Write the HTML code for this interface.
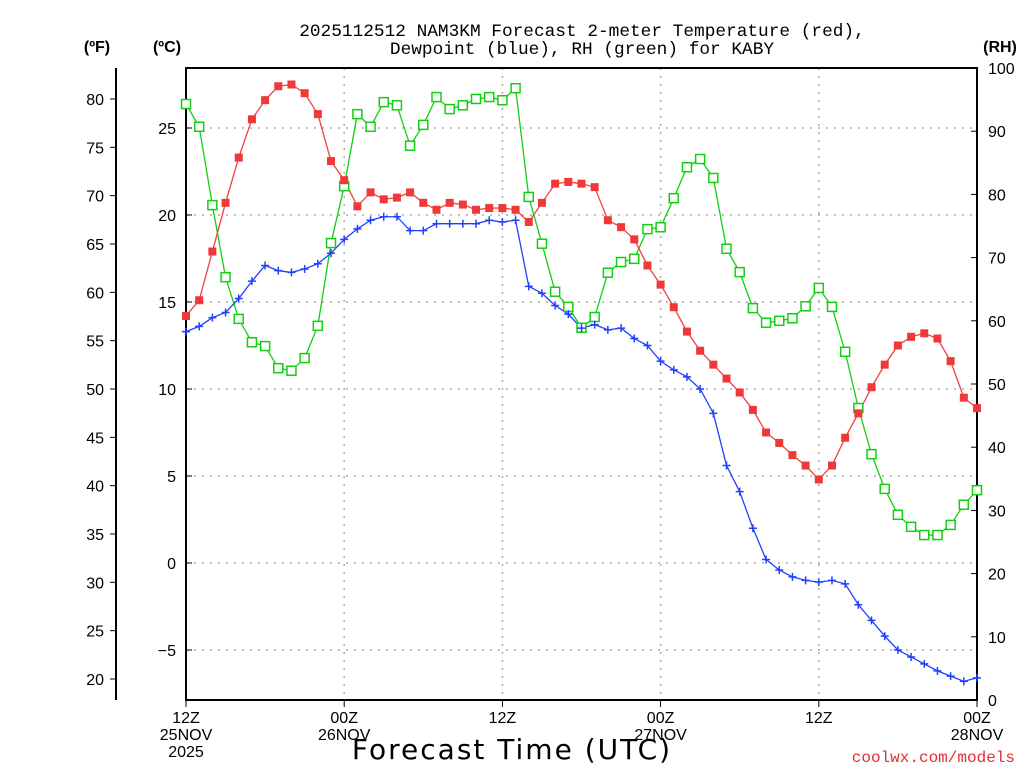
<!DOCTYPE html>
<html><head><meta charset="utf-8"><style>
html,body{margin:0;padding:0;background:#fff;}
svg{display:block;font-family:"Liberation Sans",sans-serif;}
</style></head><body>
<svg id="chart" width="1024" height="768" viewBox="0 0 1024 768" xmlns="http://www.w3.org/2000/svg">
<rect width="1024" height="768" fill="#fff"/>
<g font-family="Liberation Mono, monospace" font-size="17.8" text-anchor="middle" fill="#000">
<text x="582" y="36">2025112512 NAM3KM Forecast 2-meter Temperature (red),</text>
<text x="582" y="54">Dewpoint (blue), RH (green) for KABY</text>
</g>
<text x="97" y="52" font-size="16" font-weight="bold" text-anchor="middle">(ºF)</text>
<text x="167" y="52" font-size="16" font-weight="bold" text-anchor="middle">(ºC)</text>
<text x="1000" y="52" font-size="16" font-weight="bold" text-anchor="middle">(RH)</text>
<g id="grid"></g><g id="axes"></g><g id="series"></g>
<text x="512" y="759" font-size="28" letter-spacing="2" text-anchor="middle" font-family="DejaVu Sans, sans-serif">Forecast Time (UTC)</text>
<text x="1015" y="762" font-size="16" fill="#e03030" text-anchor="end" font-family="Liberation Mono, monospace">coolwx.com/models</text>
</svg>
<script>
const tempC=[14.2,15.1,17.9,20.7,23.3,25.5,26.6,27.4,27.5,27.0,25.8,23.1,22.0,20.5,21.3,20.9,21.0,21.3,20.7,20.3,20.7,20.6,20.3,20.4,20.4,20.3,19.6,20.7,21.8,21.9,21.8,21.6,19.7,19.3,18.6,17.1,16.0,14.7,13.3,12.2,11.4,10.6,9.8,8.8,7.5,6.9,6.2,5.6,4.8,5.6,7.2,8.6,10.1,11.4,12.5,13.0,13.2,12.9,11.6,9.5,8.9];
const dewC=[13.3,13.6,14.1,14.4,15.2,16.2,17.1,16.8,16.7,16.9,17.2,17.8,18.6,19.2,19.7,19.9,19.9,19.1,19.1,19.5,19.5,19.5,19.5,19.7,19.6,19.7,15.9,15.5,14.8,14.3,13.5,13.7,13.4,13.5,12.9,12.5,11.6,11.1,10.7,10.0,8.6,5.6,4.1,2.0,0.2,-0.4,-0.8,-1.0,-1.1,-1.0,-1.2,-2.4,-3.3,-4.2,-5.0,-5.4,-5.8,-6.2,-6.5,-6.8,-6.6];
const rh=[94.3,90.7,78.3,66.9,60.3,56.6,56.0,52.5,52.1,54.1,59.2,72.3,81.3,92.7,90.7,94.6,94.1,87.7,91.0,95.4,93.5,94.1,95.1,95.4,94.9,96.8,79.6,72.2,64.6,62.2,58.9,60.6,67.6,69.3,69.8,74.5,74.8,79.4,84.3,85.6,82.6,71.4,67.7,62.0,59.7,60.0,60.4,62.3,65.2,62.2,55.1,46.2,38.9,33.4,29.3,27.4,26.1,26.1,27.7,30.9,33.2];
const cTicks=[25,20,15,10,5,0,-5];
const fTicks=[80,75,70,65,60,55,50,45,40,35,30,25,20];
const rhTicks=[0,10,20,30,40,50,60,70,80,90,100];
const xTickHours=[0,12,24,36,48,60];
const xTickLabels=[["12Z","25NOV","2025"],["00Z","26NOV"],["12Z",""],["00Z","27NOV"],["12Z",""],["00Z","28NOV"]];
const NS="http://www.w3.org/2000/svg";
const L=186,R=977,T=68,B=700;
const xS=h=>L+h*(R-L)/60;
const yC=c=>563-c*17.4;
const yF=f=>yC((f-32)/1.8);
const yRH=r=>B-r*(B-T)/100;
function mk(tag,attrs,parent){const e=document.createElementNS(NS,tag);for(const k in attrs)e.setAttribute(k,attrs[k]);parent.appendChild(e);return e;}
const grid=document.getElementById('grid'),axes=document.getElementById('axes'),ser=document.getElementById('series');
cTicks.forEach(c=>{const l=mk('line',{x1:L,x2:R,y1:yC(c),y2:yC(c),stroke:'#aaa','stroke-dasharray':'2,6','stroke-width':1.5},grid);


const t=mk('text',{x:L-10,y:yC(c)+6,'font-size':16,'text-anchor':'end'},axes);t.textContent=c<0?'\u2212'+(-c):c;


mk('line',{x1:L,x2:L+6,y1:yC(c),y2:yC(c),stroke:'#000'},axes);});
xTickHours.forEach((h,i)=>{if(h>0&&h<60){const l=mk('line',{x1:xS(h),x2:xS(h),y1:T,y2:B,stroke:'#aaa','stroke-dasharray':'2,6','stroke-width':1.5},grid);

}
mk('line',{x1:xS(h),x2:xS(h),y1:B,y2:B+7,stroke:'#000'},axes);
xTickLabels[i].forEach((s,j)=>{const t=mk('text',{x:xS(h),y:723+j*17,'font-size':16,'text-anchor':'middle'},axes);t.textContent=s;

});});
mk('rect',{x:L,y:T,width:R-L,height:B-T,fill:'none',stroke:'#000','stroke-width':2},axes);
mk('line',{x1:116,x2:116,y1:T,y2:B,stroke:'#000','stroke-width':2},axes);
fTicks.forEach(f=>{mk('line',{x1:116,x2:110,y1:yF(f),y2:yF(f),stroke:'#000'},axes);
const t=mk('text',{x:104,y:yF(f)+6,'font-size':16,'text-anchor':'end'},axes);t.textContent=f;

});
rhTicks.forEach(r=>{mk('line',{x1:R,x2:R-6,y1:yRH(r),y2:yRH(r),stroke:'#000'},axes);
const t=mk('text',{x:988,y:yRH(r)+6,'font-size':16},axes);t.textContent=r;

});
function line(data,yf,color,name){const p=mk('polyline',{points:data.map((v,i)=>xS(i)+','+yf(v)).join(' '),fill:'none',stroke:color,'stroke-width':1.3},ser);

}
line(rh,yRH,'#10d010','rh');
line(tempC,yC,'#f04040','temperature');
line(dewC,yC,'#2040ff','dewpoint');
rh.forEach((v,i)=>{const r=mk('rect',{x:xS(i)-4.5,y:yRH(v)-4.5,width:9,height:9,fill:'#fff',stroke:'#10d010','stroke-width':1.5},ser);

});
tempC.forEach((v,i)=>{const r=mk('rect',{x:xS(i)-4,y:yC(v)-4,width:8,height:8,fill:'#f03838'},ser);

});
dewC.forEach((v,i)=>{const p=mk('path',{d:`M${xS(i)-4},${yC(v)}h8M${xS(i)},${yC(v)-4}v8`,stroke:'#2040ff','stroke-width':1.5},ser);

});
</script>
</body></html>
